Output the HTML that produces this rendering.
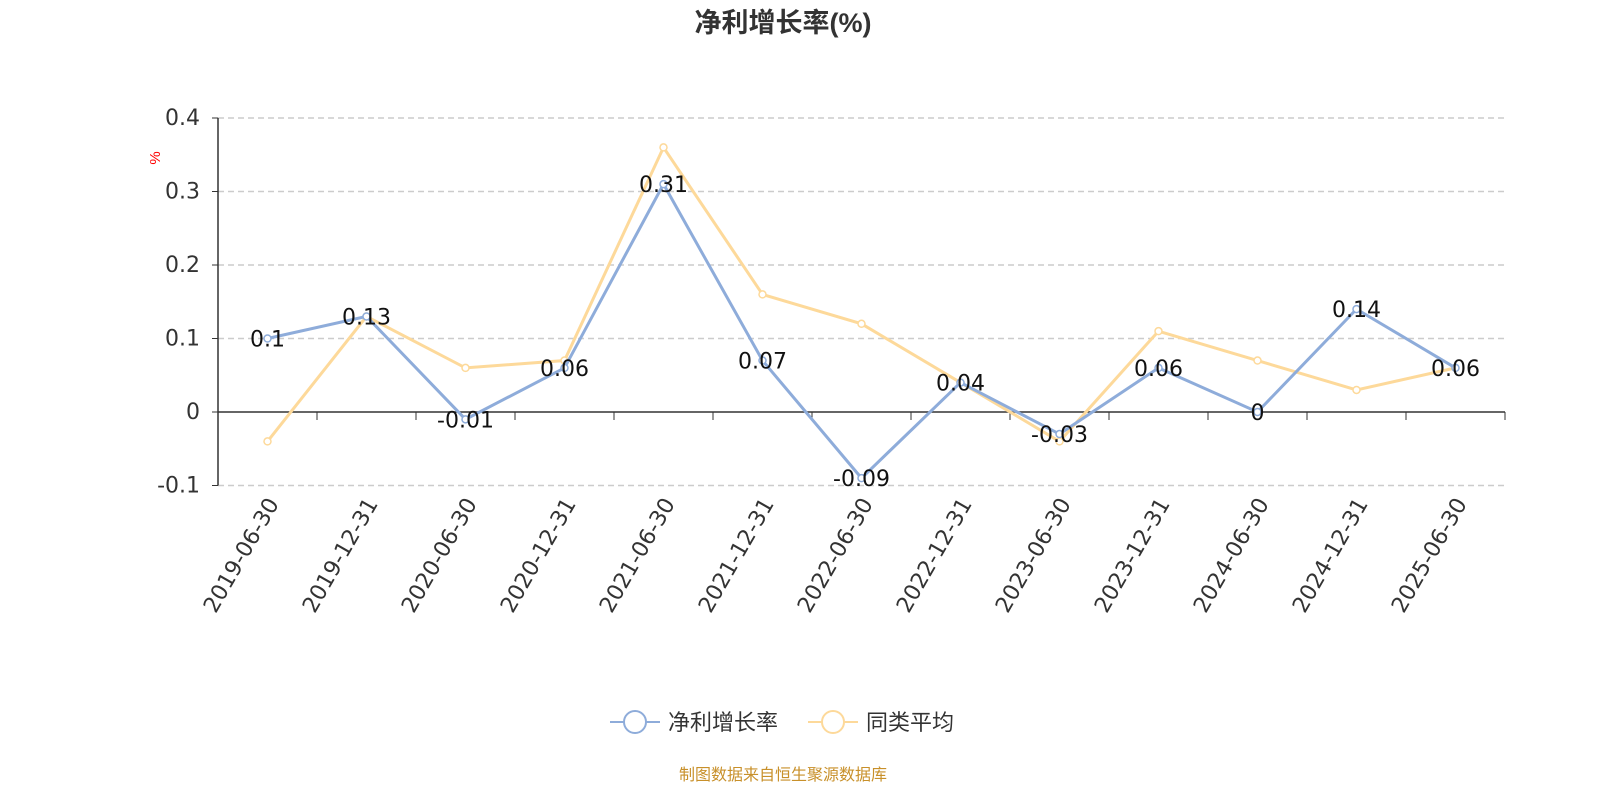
<!DOCTYPE html>
<html><head><meta charset="utf-8"><style>
body{margin:0;background:#fff;width:1600px;height:800px;overflow:hidden;font-family:"Liberation Sans","Noto Sans CJK SC",sans-serif}
</style></head><body>
<svg width="1600" height="800" xmlns="http://www.w3.org/2000/svg" font-family="Liberation Sans, Noto Sans CJK SC, sans-serif">
<text x="783" y="32" text-anchor="middle" font-size="27" font-weight="bold" fill="#333">净利增长率(%)</text>
<text transform="translate(160,158) rotate(-90)" text-anchor="middle" font-size="15" fill="red">%</text>
<g id="grid"></g><g id="axes"></g><g id="series"></g><g id="labels"></g>
<g>
<g>
<line x1="610" y1="722" x2="660" y2="722" stroke="#8eacda" stroke-width="2"/><circle cx="635" cy="722" r="11" fill="#fff" stroke="#8eacda" stroke-width="2"/>
<text x="668" y="730" font-size="22" fill="#333">净利增长率</text></g>
<g>
<line x1="808" y1="722" x2="858" y2="722" stroke="#fdd99a" stroke-width="2"/><circle cx="833" cy="722" r="11" fill="#fff" stroke="#fdd99a" stroke-width="2"/>
<text x="866" y="730" font-size="22" fill="#333">同类平均</text></g>
</g>
<text x="783" y="780" text-anchor="middle" font-size="16" fill="#c8902a">制图数据来自恒生聚源数据库</text>
</svg>
<script>
const categories=["2019-06-30","2019-12-31","2020-06-30","2020-12-31","2021-06-30","2021-12-31","2022-06-30","2022-12-31","2023-06-30","2023-12-31","2024-06-30","2024-12-31","2025-06-30"];
const netGrowth=[0.1,0.13,-0.01,0.06,0.31,0.07,-0.09,0.04,-0.03,0.06,0,0.14,0.06];
const peerAvg=[-0.04,0.13,0.06,0.07,0.36,0.16,0.12,0.04,-0.04,0.11,0.07,0.03,0.06];
const yTicks=[-0.1,0,0.1,0.2,0.3,0.4];
const NS="http://www.w3.org/2000/svg";
const L=218,R=1505,bw=(R-L)/categories.length;
const x=i=>L+bw*(i+0.5);
const y=v=>412-v*735;
function mk(t,a,p){const e=document.createElementNS(NS,t);for(const k in a)e.setAttribute(k,a[k]);p.appendChild(e);return e;}
const grid=document.getElementById('grid'),axes=document.getElementById('axes'),ser=document.getElementById('series'),lab=document.getElementById('labels');
yTicks.forEach(v=>{
 if(v!==0){const g=mk('line',{x1:L,x2:R,y1:y(v),y2:y(v),stroke:'#ccc','stroke-dasharray':'6,4','stroke-width':1.5},grid);
 
 }
 const t=mk('text',{x:L-18,y:y(v)+7,'text-anchor':'end','font-size':22,fill:'#333','font-family':'DejaVu Sans, sans-serif'},axes);t.textContent=String(v);
 
 
 mk('line',{x1:L-6,x2:L,y1:y(v),y2:y(v),stroke:'#333'},axes);
});
const ya=mk('line',{x1:L,x2:L,y1:y(0.4),y2:y(-0.1),stroke:'#333','stroke-width':1.5},axes);


const xa=mk('line',{x1:L,x2:R,y1:y(0),y2:y(0),stroke:'#333','stroke-width':1.5},axes);


for(let i=0;i<=categories.length;i++)mk('line',{x1:L+bw*i,x2:L+bw*i,y1:y(0),y2:y(0)+8,stroke:'#333'},axes);
categories.forEach((c,i)=>{
 const t=mk('text',{transform:`translate(${x(i)+12},${y(-0.1)+18}) rotate(-60)`,'text-anchor':'end','font-size':22,fill:'#333','font-family':'DejaVu Sans, sans-serif'},axes);
 t.textContent=c;
 
 
});
function series(arr,color,name,labels){
 const p=mk('polyline',{points:arr.map((v,i)=>x(i)+','+y(v)).join(' '),fill:'none',stroke:color,'stroke-width':3},ser);
 
 
 arr.forEach((v,i)=>{
  const c=mk('circle',{cx:x(i),cy:y(v),r:3.5,fill:'#fff',stroke:color,'stroke-width':1.5},ser);
  
  
  if(labels){const t=mk('text',{x:x(i),y:y(v)+8,'text-anchor':'middle','font-size':22,fill:'#111','font-family':'DejaVu Sans, sans-serif'},lab);
   t.textContent=String(v);
   
   }
 });
}
series(peerAvg,'#fdd99a','peer-avg',false);
series(netGrowth,'#8eacda','net-growth',true);
</script>
</body></html>
